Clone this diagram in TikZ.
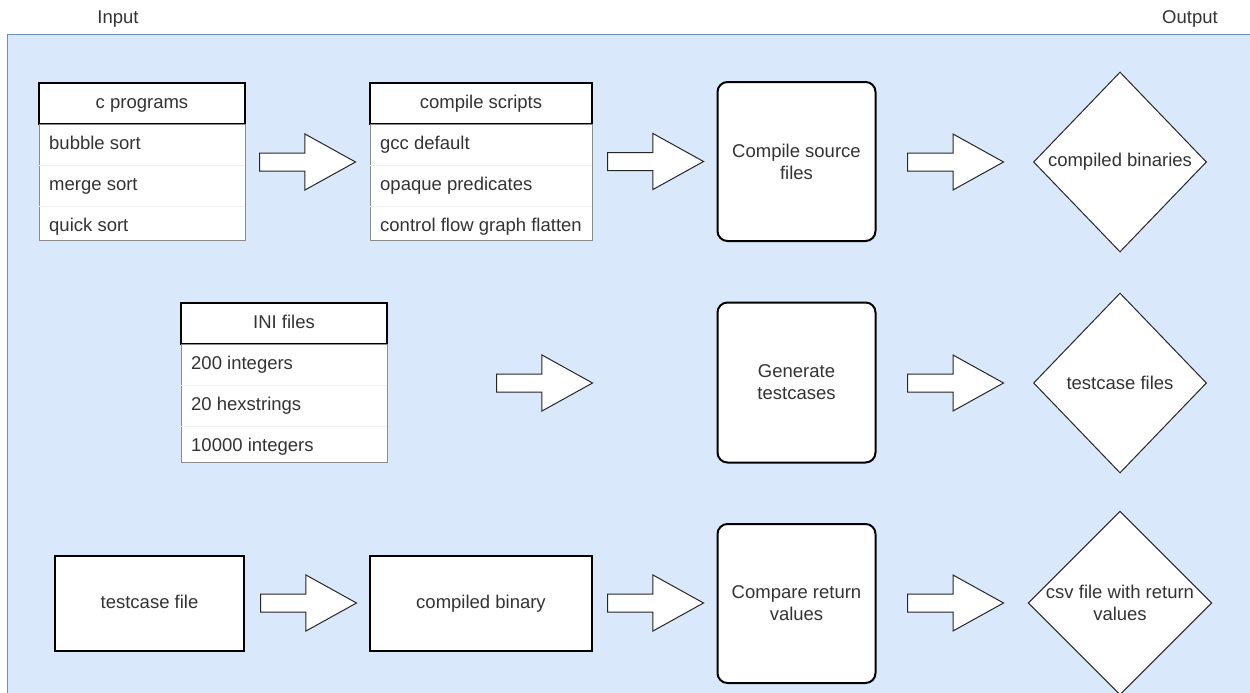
\documentclass[tikz,border=0pt]{standalone}
\usepackage{fontspec}
\setmainfont{Liberation Sans}
\usetikzlibrary{shapes.geometric,shapes.arrows}

\definecolor{bgblue}{HTML}{DAE8FC}
\definecolor{bgedge}{HTML}{6C8EBF}
\definecolor{txt}{HTML}{333333}

\begin{document}
\begin{tikzpicture}[x=1pt,y=-1pt,
  every node/.style={text=txt,font=\fontsize{18.5}{22}\selectfont},
  line/.style={text height=13pt,text depth=4pt},
  head/.style={line,draw=black,line width=1.2pt,fill=white,minimum height=41pt,inner sep=0pt},
  tbody/.style={draw=black!45,line width=1pt,fill=white,inner sep=0pt},
  entry/.style={line,anchor=west,inner sep=0pt},
  sepline/.style={draw=black!6,line width=1pt},
  proc/.style={draw=black,line width=2pt,fill=white,rounded corners=10pt,
    minimum width=158pt,minimum height=159pt,align=center,inner sep=0pt},
  plain/.style={line,draw=black,line width=1.2pt,fill=white,minimum height=95pt,inner sep=0pt},
  result/.style={diamond,draw=black!85,line width=1pt,fill=white,inner sep=0pt,
    minimum width=173pt,minimum height=180pt,align=center},
  fat/.style={single arrow,draw=black!85,line width=1pt,fill=white,anchor=tail,
    minimum height=96pt,minimum width=55pt,inner xsep=0pt,inner ysep=8.5pt,
    text height=0pt,text depth=0pt,single arrow head extend=19pt,
    single arrow tip angle=58},
  caption/.style={line,inner sep=0pt}
]
\useasboundingbox (0,0) rectangle (1250,693);
\clip (0,0) rectangle (1250,693);

%%% background %%%
\draw[fill=bgblue,draw=bgedge,line width=1pt] (7.5,35) rectangle (1260,700);
\node (inp) at (118,19) [caption] {Input};
\node (outp) at (1190,19) [caption] {Output};

%%% first row %%%
  \node (cp) at (142,103.5) [head,minimum width=206pt] {c programs};
  \node (cpb) at (142,182) [tbody,minimum width=206pt,minimum height=116pt] {};
  \node (cs) at (481,103.5) [head,minimum width=222pt] {compile scripts};
  \node (csb) at (481,182) [tbody,minimum width=222pt,minimum height=116pt] {};
  \node (csrc) at (796.5,161.5) [proc] {Compile source\\files};
  \node (bins) at (1120,162) [result] {compiled binaries};

\draw[sepline] (39,165) -- (245,165) (39,206) -- (245,206)
               (370,165) -- (592,165) (370,206) -- (592,206);

\node (cp1) at (49,145) [entry] {bubble sort};
\node (cp2) at (49,186) [entry] {merge sort};
\node (cp3) at (49,227) [entry] {quick sort};
\node (cs1) at (380,145) [entry] {gcc default};
\node (cs2) at (380,186) [entry] {opaque predicates};
\node (cs3) at (380,227) [entry] {control flow graph flatten};

  \node (a1) at (259,162) [fat] {};
  \node (a2) at (607,161.5) [fat] {};
  \node (a3) at (907,162) [fat] {};

%%% second row %%%
  \node (ini) at (284,323.5) [head,minimum width=206pt] {INI files};
  \node (inib) at (284,403) [tbody,minimum width=206pt,minimum height=118pt] {};
  \node (gen) at (796.5,382.5) [proc,minimum height=160pt] {Generate\\testcases};
  \node (tcs) at (1120,383) [result] {testcase files};

\draw[sepline] (181,385) -- (387,385) (181,426) -- (387,426);

\node (ini1) at (191,365) [entry] {200 integers};
\node (ini2) at (191,406) [entry] {20 hexstrings};
\node (ini3) at (191,447) [entry] {10000 integers};

  \node (a4) at (496,383) [fat] {};
  \node (a5) at (907,383) [fat] {};

%%% third row %%%
  \node (tc) at (149.5,603.5) [plain,minimum width=189pt] {testcase file};
  \node (cb) at (481,603.5) [plain,minimum width=222pt] {compiled binary};
  \node (cmp) at (796.5,603.5) [proc] {Compare return\\values};
  \node (csv) at (1120,603) [result] {csv file with return\\values};

  \node (a6) at (260,603) [fat] {};
  \node (a7) at (607,603) [fat] {};
  \node (a8) at (907,603) [fat] {};
\end{tikzpicture}
\end{document}
